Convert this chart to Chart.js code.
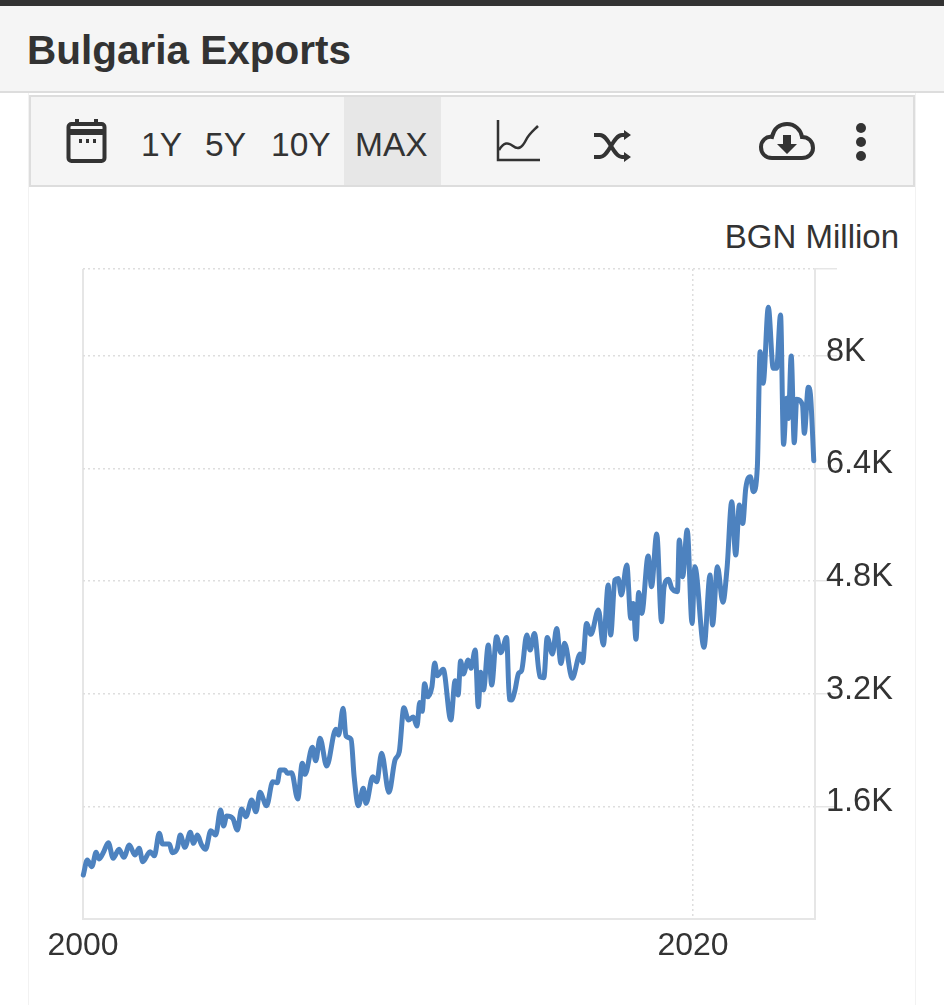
<!DOCTYPE html>
<html>
<head>
<meta charset="utf-8">
<title>Bulgaria Exports</title>
<script src="https://cdn.jsdelivr.net/npm/chart.js@4"></script>
<style>
    html, body { margin: 0; padding: 0; background: #fff; }
    body { width: 944px; height: 1005px; position: relative; overflow: hidden; font-family: "Liberation Sans", Arial, sans-serif; color: #333; }
    #topbar { position: absolute; left: 0; top: 0; width: 944px; height: 6px; background: #333; }
    #header { position: absolute; left: 0; top: 6px; width: 944px; height: 85px; background: #f5f5f5; border-bottom: 2px solid #ddd; }
    #header span { position: absolute; left: 27px; top: 20px; font-size: 40.5px; font-weight: bold; line-height: 48px; }
    #card { position: absolute; left: 28px; top: 93px; width: 886px; height: 912px; border-left: 1px solid #f2f2f2; border-right: 1px solid #f2f2f2; }
    #toolbar { position: absolute; left: 29px; top: 95px; width: 882px; height: 88px; background: #f5f5f5; border: 2px solid #ddd; }
    #max { position: absolute; left: 313px; top: 0; width: 97px; height: 88px; background: #e7e7e7; }
    .range { position: absolute; top: 28px; font-size: 33.5px; line-height: 40px; }
    #toolbar svg { position: absolute; overflow: visible; }
    #unit { position: absolute; right: 45px; top: 217px; font-size: 33px; line-height: 40px; }
    #chart { position: absolute; left: 0; top: 0; }
</style>
</head>
<body>
<div id="card"></div>
<div id="topbar"></div>
<div id="header"><span>Bulgaria Exports</span></div>
<div id="toolbar">
    <div id="max"></div>
    <svg style="left:35px;top:21px" width="42" height="46" viewBox="0 0 42 46" fill="none" stroke="#333">
        <rect x="2.5" y="6" width="36" height="37" rx="3" stroke-width="4"/>
        <path d="M2 12h37v4H2z" fill="#333" stroke-width="2"/>
        <path d="M11 1v7M30 1v7" stroke-width="4"/>
        <path d="M13 23h3M20 23h3M27 23h3" stroke-width="4"/>
    </svg>
    <span class="range" style="left:110px">1Y</span>
    <span class="range" style="left:174px">5Y</span>
    <span class="range" style="left:240px">10Y</span>
    <span class="range" style="left:324px">MAX</span>
    <svg style="left:465px;top:23px" width="44" height="42" viewBox="0 0 44 42" fill="none" stroke="#333" stroke-width="2.5">
        <path d="M2 0v40h42"/>
        <path d="M3 30c5-8 9-8 14-4s9 2 13-6c3-6 6-8 12-14"/>
    </svg>
    <svg style="left:562px;top:33px" width="38" height="32" viewBox="0 0 38 32" fill="none" stroke="#333" stroke-width="4">
        <path d="M1 5h6c9 0 13 22 22 22h4M1 27h6c9 0 13-22 22-22h4"/>
        <path d="M31 0l7 5-7 5zM31 22l7 5-7 5z" fill="#333" stroke="none"/>
    </svg>
    <svg style="left:728px;top:25px" width="56" height="38" viewBox="0 0 56 38" fill="none" stroke="#333" stroke-width="4">
        <path d="M13 36C6 36 2 31 2 25c0-6 5-11 11-10C15 6 21 2 28 2c8 0 14 6 15 13 6 0 11 4 11 11 0 6-5 10-11 10z"/>
        <path d="M24 13h8v9h6l-10 10-10-10h6z" fill="#333" stroke="none"/>
    </svg>
    <svg style="left:824px;top:25px" width="12" height="40" viewBox="0 0 12 40" fill="#333">
        <circle cx="6" cy="6" r="5"/><circle cx="6" cy="20" r="5"/><circle cx="6" cy="34" r="5"/>
    </svg>
</div>
<div id="unit">BGN Million</div>
<canvas id="chart" width="944" height="1005"></canvas>

<script>
// values, x is years after 2000
const yearOffsets = [
    0.01, 0.14, 0.29, 0.43, 0.53, 0.67, 0.83, 0.99, 1.18, 1.34, 1.52, 1.70, 1.84, 1.96, 2.20, 2.34,
    2.50, 2.61, 2.83, 2.93, 3.09, 3.19, 3.34, 3.52, 3.62, 3.75, 3.89, 4.02, 4.19, 4.35, 4.51, 4.61,
    4.71, 4.91, 5.06, 5.20, 5.34, 5.53, 5.67, 5.80, 6.02, 6.22, 6.37, 6.46, 6.62, 6.70, 6.84, 7.04,
    7.19, 7.28, 7.52, 7.63, 7.77, 7.99, 8.29, 8.38, 8.53, 8.62, 8.79, 8.89, 9.03, 9.19, 9.28, 9.50,
    9.63, 9.79, 10.03, 10.23, 10.37, 10.52, 10.67, 10.83, 10.95, 11.04, 11.12, 11.20, 11.30, 11.44, 11.53, 11.62,
    11.81, 12.06, 12.20, 12.30, 12.38, 12.47, 12.63, 12.72, 12.86, 12.96, 13.04, 13.13, 13.29, 13.40, 13.56, 13.70,
    13.89, 13.98, 14.05, 14.16, 14.28, 14.38, 14.55, 14.66, 14.80, 14.98, 15.11, 15.22, 15.39, 15.53, 15.67, 15.79,
    16.04, 16.30, 16.38, 16.51, 16.65, 16.90, 17.06, 17.22, 17.30, 17.44, 17.55, 17.65, 17.83, 17.96, 18.04, 18.13,
    18.22, 18.32, 18.53, 18.64, 18.81, 18.97, 19.05, 19.20, 19.30, 19.49, 19.55, 19.66, 19.81, 19.97, 20.06, 20.36,
    20.56, 20.64, 20.80, 20.98, 21.12, 21.27, 21.40, 21.52, 21.63, 21.73, 21.88, 21.98, 22.11, 22.20, 22.30, 22.47,
    22.63, 22.74, 22.87, 22.97, 23.07, 23.13, 23.22, 23.32, 23.40, 23.59, 23.65, 23.78, 23.85, 23.96
];
const exportsBgn = [
    625, 838, 743, 947, 852, 947, 1084, 862, 990, 876, 1051, 909, 1004, 814, 956, 899,
    1217, 1065, 1065, 942, 1004, 1193, 1018, 1231, 1075, 1193, 1051, 990, 1254, 1193, 1548, 1321,
    1463, 1430, 1264, 1562, 1453, 1690, 1524, 1799, 1609, 1950, 1936, 2116, 2116, 2069, 2078, 1705,
    2212, 2055, 2438, 2248, 2567, 2173, 2694, 2613, 2993, 2599, 2552, 2021, 1609, 1856, 1643, 2021,
    1950, 2353, 1799, 2258, 2376, 3000, 2827, 2870, 2740, 3075, 2950, 3342, 3158, 3300, 3635, 3455,
    3546, 2827, 3385, 3182, 3665, 3480, 3679, 3561, 3821, 3016, 3504, 3253, 3892, 3324, 4010, 3783,
    4000, 3120, 3111, 3243, 3490, 3527, 4034, 3821, 4057, 3442, 3428, 4000, 3764, 4128, 3631, 3916,
    3418, 3764, 3641, 4199, 4043, 4389, 3892, 4744, 4034, 4815, 4838, 4602, 5028, 4271, 4483, 3972,
    4639, 4341, 5156, 4720, 5469, 4223, 4711, 4825, 4702, 4650, 5384, 4862, 5526, 4199, 5004, 3859,
    4886, 4176, 5004, 4500, 5004, 5928, 5170, 5881, 5618, 6118, 6283, 6070, 6425, 8058, 7609, 8688,
    7822, 7822, 8580, 6742, 7396, 7111, 7997, 6766, 7382, 7301, 6899, 7552, 7450, 6510
];
const xTickYears = [2000, 2020];
const yTickValues = [1600, 3200, 4800, 6400, 8000];
const yTickLabels = ['1.6K', '3.2K', '4.8K', '6.4K', '8K'];
const yTop = 9233;
const xEnd = 2024;

const gridColor = '#dedede';
const axisColor = '#e6e6e6';

const points = yearOffsets.map((offset, i) => ({ x: 2000 + offset, y: exportsBgn[i] }));

new Chart(document.getElementById('chart').getContext('2d'), {
    type: 'line',
    data: {
        datasets: [{
            data: points,
            borderColor: '#4d82bf',
            borderWidth: 5,
            borderCapStyle: 'round',
            borderJoinStyle: 'round',
            cubicInterpolationMode: 'monotone',
            pointRadius: 0,
            clip: false
        }]
    },
    options: {
        responsive: false,
        animation: false,
        layout: { padding: { left: 83, top: 269, right: 0, bottom: 0 } },
        plugins: { legend: { display: false }, tooltip: { enabled: false } },
        scales: {
            x: {
                type: 'linear',
                min: 2000,
                max: xEnd,
                afterFit: scale => { scale.height = 86; },
                afterBuildTicks: scale => { scale.ticks = xTickYears.map(v => ({ value: v })); },
                grid: {
                    color: ctx => ctx.tick && ctx.tick.value === 2000 ? axisColor : gridColor,
                    lineWidth: ctx => ctx.tick && ctx.tick.value === 2000 ? 2 : 1.5,
                    drawTicks: false
                },
                border: {
                    color: axisColor,
                    width: 2,
                    dash: ctx => ctx.tick && ctx.tick.value === 2000 ? [] : [2, 3]
                },
                ticks: {
                    color: '#333',
                    font: { family: '"Liberation Sans"', size: 32 },
                    padding: 8,
                    maxRotation: 0,
                    autoSkip: false,
                    callback: value => String(value)
                }
            },
            y: {
                position: 'right',
                min: 0,
                max: yTop,
                afterFit: scale => { scale.width = 129; },
                afterBuildTicks: scale => {
                    scale.ticks = yTickValues.concat(yTop).map(v => ({ value: v }));
                },
                grid: {
                    color: gridColor,
                    lineWidth: 1.5,
                    tickColor: axisColor,
                    tickLength: 22,
                    tickBorderDash: []
                },
                border: { color: axisColor, width: 2, dash: [2, 3] },
                ticks: {
                    color: '#333',
                    // empty second line lifts the label above its tick
                    font: { family: '"Liberation Sans"', size: 32.5, lineHeight: '8px' },
                    padding: -11,
                    autoSkip: false,
                    callback: value => {
                        const i = yTickValues.indexOf(value);
                        return i < 0 ? '' : [yTickLabels[i], ''];
                    }
                }
            }
        }
    }
});
</script>
</body>
</html>
